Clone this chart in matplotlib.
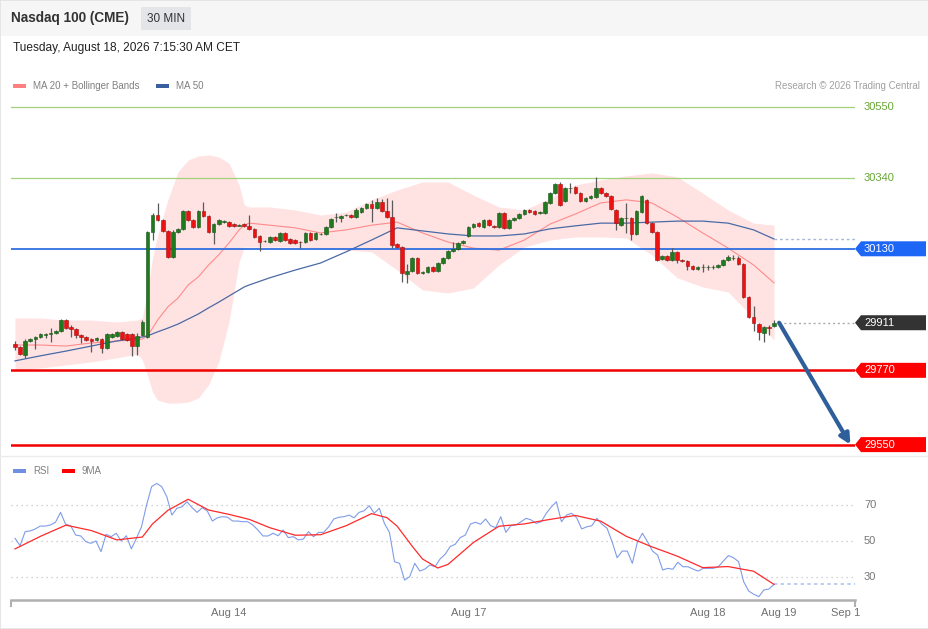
import numpy as np
import matplotlib.pyplot as plt
from matplotlib.patches import Polygon, Rectangle
from matplotlib.transforms import blended_transform_factory

plt.rcParams['font.family'] = ['Liberation Sans', 'DejaVu Sans']

# ---- candles (30 min bars) ----
opens = [29848, 29839, 29815, 29857, 29863, 29869, 29875, 29878, 29881, 29887,
         29919, 29898, 29893, 29875, 29869, 29863, 29860, 29863, 29836, 29869,
         29872, 29884, 29878, 29878, 29842, 29875, 29869, 30180, 30230, 30215,
         30183, 30106, 30180, 30189, 30242, 30215, 30195, 30242, 30227, 30180,
         30203, 30209, 30209, 30203, 30199, 30203, 30198, 30189, 30168, 30152,
         30150, 30165, 30153, 30177, 30159, 30156, 30151, 30150, 30177, 30159,
         30173, 30174, 30195, 30223, 30221, 30229, 30230, 30224, 30239, 30251,
         30263, 30251, 30269, 30242, 30224, 30144, 30135, 30055, 30064, 30103,
         30058, 30061, 30076, 30064, 30088, 30103, 30124, 30129, 30147, 30168,
         30195, 30206, 30195, 30215, 30198, 30195, 30236, 30192, 30215, 30221,
         30233, 30245, 30242, 30236, 30236, 30266, 30295, 30322, 30272, 30309,
         30313, 30295, 30272, 30281, 30283, 30310, 30295, 30286, 30245, 30200,
         30220, 30221, 30174, 30239, 30275, 30206, 30180, 30100, 30109, 30097,
         30121, 30097, 30094, 30079, 30070, 30075, 30075, 30075, 30076, 30082,
         30097, 30102, 30103, 30085, 29987, 29928, 29907, 29881, 29898, 29901]
highs = [29857, 29842, 29863, 29866, 29872, 29881, 29881, 29895, 29890, 29922,
         29922, 29904, 29895, 29878, 29872, 29866, 29869, 29866, 29881, 29881,
         29887, 29887, 29881, 29881, 29881, 29919, 30183, 30236, 30266, 30218,
         30186, 30186, 30192, 30245, 30245, 30218, 30245, 30269, 30230, 30206,
         30218, 30215, 30212, 30206, 30203, 30206, 30230, 30192, 30171, 30156,
         30168, 30168, 30180, 30180, 30162, 30159, 30153, 30180, 30180, 30180,
         30177, 30198, 30221, 30236, 30230, 30233, 30233, 30251, 30254, 30266,
         30275, 30281, 30278, 30281, 30275, 30147, 30138, 30085, 30106, 30106,
         30064, 30079, 30079, 30091, 30106, 30126, 30150, 30150, 30156, 30198,
         30206, 30209, 30218, 30218, 30200, 30239, 30239, 30218, 30224, 30236,
         30248, 30248, 30245, 30242, 30272, 30298, 30325, 30328, 30313, 30325,
         30316, 30298, 30283, 30289, 30343, 30313, 30298, 30289, 30248, 30224,
         30266, 30224, 30245, 30289, 30278, 30209, 30183, 30112, 30112, 30132,
         30124, 30100, 30097, 30082, 30079, 30085, 30082, 30082, 30085, 30100,
         30112, 30112, 30109, 30088, 29990, 29961, 29910, 29901, 29904, 29919]
lows = [29830, 29815, 29807, 29854, 29833, 29866, 29866, 29854, 29878, 29884,
        29893, 29869, 29866, 29851, 29857, 29824, 29857, 29821, 29833, 29866,
        29869, 29860, 29857, 29812, 29815, 29872, 29866, 30156, 30212, 30180,
        30103, 30103, 30177, 30186, 30212, 30192, 30192, 30224, 30177, 30144,
        30200, 30206, 30195, 30195, 30198, 30195, 30186, 30162, 30124, 30150,
        30147, 30153, 30150, 30153, 30144, 30144, 30132, 30147, 30153, 30156,
        30171, 30171, 30192, 30209, 30209, 30227, 30221, 30221, 30236, 30248,
        30209, 30248, 30239, 30221, 30132, 30132, 30032, 30029, 30061, 30055,
        30055, 30058, 30061, 30061, 30085, 30100, 30121, 30126, 30144, 30165,
        30192, 30195, 30192, 30198, 30192, 30192, 30189, 30189, 30212, 30218,
        30230, 30236, 30230, 30233, 30233, 30263, 30292, 30257, 30269, 30295,
        30292, 30269, 30269, 30278, 30280, 30292, 30283, 30245, 30186, 30198,
        30177, 30156, 30171, 30236, 30203, 30177, 30094, 30097, 30094, 30094,
        30088, 30091, 30067, 30067, 30067, 30061, 30067, 30070, 30073, 30079,
        30094, 30097, 30082, 29984, 29925, 29887, 29860, 29854, 29875, 29898]
closes = [29839, 29818, 29857, 29863, 29869, 29878, 29878, 29881, 29887, 29919,
          29895, 29893, 29875, 29869, 29860, 29857, 29866, 29836, 29878, 29878,
          29884, 29863, 29860, 29842, 29872, 29913, 30180, 30230, 30215, 30183,
          30106, 30180, 30189, 30242, 30215, 30195, 30242, 30227, 30180, 30203,
          30215, 30212, 30198, 30198, 30201, 30198, 30189, 30165, 30150, 30154,
          30165, 30156, 30177, 30156, 30147, 30147, 30149, 30177, 30156, 30177,
          30175, 30195, 30218, 30225, 30227, 30231, 30224, 30245, 30251, 30263,
          30251, 30269, 30242, 30224, 30141, 30135, 30058, 30064, 30103, 30058,
          30061, 30076, 30064, 30088, 30103, 30124, 30129, 30147, 30153, 30195,
          30203, 30198, 30215, 30200, 30195, 30236, 30192, 30215, 30221, 30233,
          30245, 30239, 30233, 30239, 30269, 30295, 30322, 30260, 30310, 30311,
          30295, 30272, 30281, 30286, 30310, 30295, 30286, 30248, 30206, 30221,
          30222, 30174, 30242, 30286, 30206, 30180, 30097, 30109, 30097, 30121,
          30097, 30094, 30079, 30070, 30076, 30077, 30077, 30077, 30082, 30097,
          30106, 30104, 30085, 29987, 29928, 29910, 29884, 29898, 29895, 29911]

# ---- MA 20 + Bollinger bands, MA 50 (read at these bars) ----
ma_bars = [0, 5, 10, 15, 20, 24, 25, 26, 27, 28, 30, 32, 34, 36, 38, 40, 42, 44, 45, 46,
           50, 55, 60, 65, 70, 75, 80, 85, 90, 95, 100, 105, 110, 115, 120, 125, 130, 135,
           140, 145, 149]
bb_upper = [29925, 29925, 29919, 29919, 29913, 29919, 29925, 30008, 30103, 30171,
            30275, 30358, 30393, 30405, 30408, 30402, 30384, 30319, 30260, 30254,
            30254, 30245, 30230, 30239, 30275, 30304, 30328, 30328, 30289, 30254,
            30245, 30280, 30319, 30334, 30346, 30355, 30343, 30295, 30245, 30206, 30200]
bb_lower = [29771, 29777, 29786, 29795, 29807, 29818, 29801, 29756, 29706, 29682,
            29673, 29673, 29676, 29688, 29727, 29795, 29913, 30091, 30135, 30135,
            30135, 30135, 30132, 30126, 30121, 30067, 30008, 29999, 30014, 30082,
            30135, 30156, 30165, 30165, 30162, 30112, 30044, 30017, 30002, 29925, 29860]
ma20 = [29845, 29845, 29842, 29851, 29857, 29860, 29863, 29872, 29895, 29919,
        29958, 29984, 30023, 30047, 30082, 30112, 30147, 30186, 30200, 30206,
        30200, 30192, 30177, 30186, 30200, 30209, 30177, 30150, 30132, 30126,
        30156, 30203, 30233, 30266, 30275, 30266, 30224, 30177, 30132, 30082, 30029]
ma50 = [29798, 29813, 29827, 29842, 29857, 29866, 29869, 29872, 29878, 29884,
        29895, 29907, 29922, 29937, 29955, 29972, 29990, 30008, 30017, 30023,
        30044, 30067, 30088, 30121, 30156, 30192, 30183, 30174, 30168, 30168,
        30174, 30189, 30198, 30206, 30206, 30209, 30212, 30212, 30206, 30186, 30159]

# ---- support / resistance levels ----
levels = [30550, 30340, 30130, 29770, 29550]
level_colors = ['#a3d17a', '#a3d17a', '#2f6fe0', '#f00000', '#f00000']
level_widths = [0.9, 0.9, 1.3, 1.8, 1.8]
label_boxes = ['', '', '#1e66f5', '#ff0000', '#ff0000']
target = 29550
target_bar = 164

# ---- RSI panel ----
rsi = [51.5, 47.4, 55.2, 55.6, 56.7, 58.3, 58.3, 58.9, 60.4, 65.9, 59.3, 58.5, 53.3, 52.8,
       49.6, 48.7, 50, 44.1, 53.7, 52.4, 54.3, 50, 52.9, 45.6, 51.5, 57.9, 70, 80.2, 82,
       80.2, 74.6, 64.4, 68.2, 69, 71.8, 68.5, 65.9, 68.5, 66.7, 61.1, 62.9, 63.5, 63.2,
       61.1, 61.1, 60.7, 60.7, 58.9, 56.1, 52.8, 52.8, 54.3, 52.9, 56.1, 51.9, 52.4, 50.6,
       51.1, 55.2, 52.4, 54.8, 54.8, 57.9, 62.2, 63.2, 63.5, 64.4, 62.9, 65.9, 66.8, 69.6,
       65.4, 68.2, 59.8, 54.8, 38.5, 37.6, 28.3, 30.2, 37.6, 33.3, 34.4, 36.7, 35.7, 40,
       42.6, 46.9, 48.2, 51.9, 53.3, 59.4, 60.4, 59.3, 62.2, 58.5, 57.4, 63.5, 54.8, 58.5,
       58.9, 60.7, 62.6, 61.7, 59.8, 60.7, 65.4, 69, 71.8, 60.7, 64.4, 65.4, 62.9, 56.7,
       57.9, 58.5, 62.6, 59.3, 57.1, 49.6, 40.7, 44.4, 44.4, 37.6, 49.3, 54.3, 49.6, 44.4,
       42.2, 33.9, 34.8, 34.3, 38.2, 35.7, 35.7, 34.4, 33.3, 34.8, 34.8, 34.8, 35.7, 38.9,
       41.9, 40.7, 38.5, 27.4, 22.2, 20.4, 19.1, 22.8, 23.3, 25.9]
rsi_ma_bars = [0, 5, 10, 15, 20, 25, 27, 30, 34, 38, 42, 46, 50, 55, 60, 65, 70, 73, 75, 78,
               80, 83, 85, 90, 95, 100, 105, 110, 115, 120, 125, 130, 135, 140, 145, 149]
rsi_ma = [45.6, 52.6, 58.8, 55.8, 50.6, 52.2, 59.5, 67, 73.2, 67.2, 64.8, 62, 57.4, 53.2,
          53.5, 58.5, 65.2, 63, 58.3, 47, 40, 35, 37, 49.2, 58.2, 59.5, 62, 64.2, 61, 52.6,
          46.8, 41.6, 35.2, 35.8, 33.2, 25.9]
rsi_levels = [70, 50, 30]

date_labels = ['Aug 14', 'Aug 17', 'Aug 18', 'Aug 19', 'Sep 1']
date_bars = [42, 89, 136, 150, 163]

# ---- layout (pixel based) ----
W, H = 929, 629
bar_px = 5.094
first_px = 15
left_px, right_px = 11, 855


def fx(p):
    return p / W


def fy(p):
    return 1 - p / H


def bar_at(p):
    return (p - first_px) / bar_px


x0, x1 = bar_at(left_px), bar_at(right_px)
x_lab = bar_at(864)

fig = plt.figure(figsize=(W / 100, H / 100), dpi=100)
fig.patch.set_facecolor('white')

# header
fig.patches.append(Rectangle((0, fy(36)), 1, 36 / H, transform=fig.transFigure,
                             facecolor='#f6f6f6', edgecolor='none', zorder=0))
fig.text(fx(11), fy(18), 'Nasdaq 100 (CME)', fontsize=9.8, fontweight='bold',
         color='#333333', va='center', ha='left')
fig.patches.append(Rectangle((fx(141), fy(30)), 50 / W, 23 / H, transform=fig.transFigure,
                             facecolor='#e3e5e8', edgecolor='none'))
fig.text(fx(166), fy(18.5), '30 MIN', fontsize=8.5, color='#333333', va='center', ha='center')
fig.text(fx(13), fy(48), 'Tuesday, August 18, 2026 7:15:30 AM CET', fontsize=8.6,
         color='#222222', va='center', ha='left')

# legends
def swatch(x, y, color):
    fig.patches.append(Rectangle((fx(x), fy(y + 2)), 13 / W, 4 / H, transform=fig.transFigure,
                                 facecolor=color, edgecolor='none'))

swatch(13, 86, '#ff8080')
fig.text(fx(33), fy(86), 'MA 20 + Bollinger Bands', fontsize=7, color='#808080', va='center')
swatch(156, 86, '#3a5f9f')
fig.text(fx(176), fy(86), 'MA 50', fontsize=7, color='#808080', va='center')
fig.text(fx(920), fy(86), 'Research \u00a9 2026 Trading Central', fontsize=7,
         color='#a0a0a0', va='center', ha='right')
swatch(13, 471, '#6f8fe0')
fig.text(fx(33), fy(471), 'RSI', fontsize=7, color='#808080', va='center')
swatch(62, 471, '#ff0000')
fig.text(fx(82), fy(471), '9MA', fontsize=7, color='#808080', va='center')

# ---- main price panel ----
ax = fig.add_axes([fx(left_px), fy(455), fx(right_px) - fx(left_px), fy(95) - fy(455)])
ax.set_xlim(x0, x1)
ax.set_ylim(30550 - (455 - 107) * 2.962, 30550 + (107 - 95) * 2.962)
ax.axis('off')

ax.fill_between(ma_bars, bb_lower, bb_upper, color='#ffe3e3', lw=0, zorder=1)
ax.plot(ma_bars, ma20, color='#ff8a8a', lw=0.8, zorder=2)
ax.plot(ma_bars, ma50, color='#4a6aa5', lw=0.9, zorder=2)
ax.hlines(ma50[-1], ma_bars[-1], x1, color='#a8b8d8', lw=1.0, linestyles=(0, (2, 2)), zorder=2)

n = len(closes)
xs = np.arange(n)
o = np.array(opens)
c = np.array(closes)
up = c >= o
ax.vlines(xs, lows, highs, color='#5a5a5a', lw=0.9, zorder=3)
body_lo = np.minimum(o, c)
body_h = np.maximum(np.abs(c - o), 1.5)
ax.bar(xs[up], body_h[up], bottom=body_lo[up], width=0.72, color='#1f7a1f',
       edgecolor='#155515', lw=0.4, zorder=4)
ax.bar(xs[~up], body_h[~up], bottom=body_lo[~up], width=0.72, color='#ee1111',
       edgecolor='#a01010', lw=0.4, zorder=4)

ax.hlines(closes[-1], n, x1, color='#aaaaaa', lw=1.0, linestyles=(0, (1.5, 2)), zorder=2)

for lev, col, lw in zip(levels, level_colors, level_widths):
    ax.axhline(lev, color=col, lw=lw, zorder=2.5)

ax.annotate('', xy=(target_bar, target), xytext=(n, closes[-1]),
            arrowprops=dict(arrowstyle='-|>', color='#2f5f9b', lw=3, mutation_scale=15,
                            shrinkA=0, shrinkB=0), zorder=6)

# right side labels
tr = blended_transform_factory(fig.transFigure, ax.transData)
half = 7.5 * 2.962
box_levels = levels + [closes[-1]]
box_colors = label_boxes + ['#333333']
for lev, bc, tc in zip(box_levels, box_colors, level_colors + ['white']):
    if bc:
        pts = [(fx(855), lev), (fx(861), lev + half), (fx(926), lev + half),
               (fx(926), lev - half), (fx(861), lev - half)]
        ax.add_patch(Polygon(pts, closed=True, transform=tr, facecolor=bc,
                             edgecolor='none', clip_on=False, zorder=5))
        ax.text(fx(864), lev, str(lev), transform=tr, fontsize=8, color='white',
                va='center', ha='left', zorder=6)
    else:
        ax.text(fx(864), lev, str(lev), transform=tr, fontsize=8, color='#66a832',
                va='center', ha='left')

# ---- RSI panel ----
ax2 = fig.add_axes([fx(left_px), fy(600), fx(right_px) - fx(left_px), fy(460) - fy(600)])
ax2.set_xlim(x0, x1)
ax2.set_ylim(50 - (600 - 541) / 1.8, 50 + (541 - 460) / 1.8)
for lv in rsi_levels:
    ax2.axhline(lv, color='#c4c4c4', lw=0.9, linestyle=(0, (1, 3)), zorder=1)
    ax2.text(x_lab, lv, str(lv), fontsize=8, color='#777777', va='center', ha='left')

rsi_x = np.linspace(0, n - 1, len(rsi))
ax2.plot(rsi_x, rsi, color='#7f9ce8', lw=0.8, zorder=3)
ax2.plot(rsi_ma_bars, rsi_ma, color='#ff2a2a', lw=0.9, zorder=3)
ax2.hlines(rsi[-1], n - 1, x1, color='#b3c3f0', lw=1.2, linestyles=(0, (2, 2)), zorder=2)

for s in ['top', 'left', 'right']:
    ax2.spines[s].set_visible(False)
ax2.spines['bottom'].set_color('#b0b0b0')
ax2.spines['bottom'].set_linewidth(1.8)
ax2.set_yticks([])
ax2.set_xticks(date_bars)
ax2.set_xticklabels(date_labels)
ax2.set_xticks([x0, x1], minor=True)
ax2.tick_params(axis='x', which='major', length=0, pad=6, labelsize=8, labelcolor='#707070')
ax2.tick_params(axis='x', which='minor', length=5, width=1.5, color='#b0b0b0')
ax2.patch.set_alpha(0)

# separators / frame
fig.add_artist(plt.Line2D([0, 1], [fy(456), fy(456)], transform=fig.transFigure,
                          color='#ececec', lw=1))
fig.patches.append(Rectangle((0, 0), 1, 1, transform=fig.transFigure, fill=False,
                             edgecolor='#e2e2e2', lw=1.2))

fig.savefig('out.png', dpi=100)
